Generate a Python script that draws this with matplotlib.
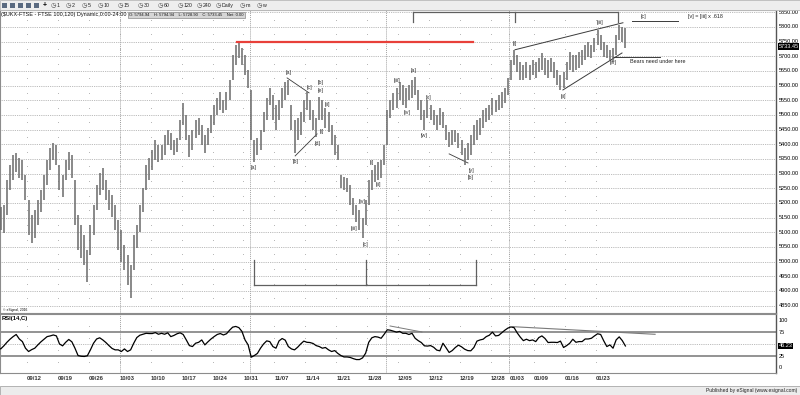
import matplotlib
matplotlib.use("Agg")
import matplotlib.pyplot as plt
from matplotlib.patches import Rectangle
import numpy as np
import pandas as pd

plt.rcParams["font.family"] = ["Liberation Sans", "DejaVu Sans"]

# 120-min style bars, two per trading day (Sep 5 2016 .. Jan 27 2017)
highs = [5193, 5186, 5193, 5278, 5329, 5363, 5370, 5353, 5346, 5295,
         5210, 5159, 5176, 5210, 5244, 5295, 5346, 5387, 5404, 5398,
         5329, 5295, 5346, 5374, 5363, 5278, 5159, 5125, 5091, 5039,
         5125, 5193, 5261, 5302, 5319, 5278, 5244, 5227, 5193, 5142,
         5108, 5057, 5022, 4988, 5091, 5125, 5193, 5251, 5329, 5353,
         5380, 5415, 5398, 5398, 5432, 5449, 5438, 5415, 5421, 5483,
         5541, 5500, 5432, 5449, 5483, 5490, 5466, 5432, 5456, 5500,
         5534, 5558, 5578, 5551, 5578, 5619, 5704, 5739, 5749, 5728,
         5704, 5653, 5585, 5415, 5421, 5449, 5510, 5558, 5592, 5568,
         5534, 5551, 5592, 5612, 5619, 5534, 5483, 5490, 5510, 5551,
         5578, 5551, 5517, 5490, 5561, 5551, 5524, 5510, 5466, 5432,
         5398, 5295, 5288, 5285, 5261, 5217, 5193, 5176, 5149, 5210,
         5278, 5312, 5329, 5340, 5346, 5398, 5517, 5551, 5575, 5592,
         5612, 5602, 5592, 5602, 5619, 5629, 5585, 5551, 5517, 5551,
         5534, 5517, 5500, 5524, 5510, 5466, 5442, 5449, 5449, 5438,
         5415, 5387, 5404, 5432, 5466, 5483, 5490, 5517, 5524, 5534,
         5558, 5551, 5568, 5578, 5592, 5626, 5687, 5722, 5704, 5681,
         5670, 5681, 5670, 5687, 5681, 5694, 5711, 5694, 5687, 5694,
         5681, 5653, 5636, 5646, 5681, 5715, 5704, 5704, 5715, 5722,
         5739, 5749, 5739, 5762, 5790, 5773, 5749, 5739, 5722, 5728,
         5773, 5807, 5800, 5795]
lows = [5125, 5108, 5097, 5159, 5244, 5278, 5305, 5285, 5278, 5210,
        5091, 5063, 5080, 5125, 5169, 5210, 5261, 5312, 5346, 5329,
        5244, 5220, 5278, 5312, 5285, 5125, 5039, 5012, 4988, 4930,
        5022, 5091, 5176, 5227, 5244, 5210, 5176, 5152, 5108, 5039,
        4999, 4971, 4920, 4876, 4971, 5046, 5101, 5169, 5244, 5278,
        5312, 5346, 5340, 5346, 5363, 5398, 5380, 5363, 5374, 5415,
        5466, 5415, 5357, 5380, 5421, 5432, 5398, 5370, 5398, 5438,
        5466, 5500, 5517, 5507, 5517, 5551, 5619, 5670, 5694, 5670,
        5636, 5592, 5415, 5340, 5363, 5380, 5442, 5483, 5534, 5483,
        5449, 5483, 5524, 5551, 5568, 5449, 5370, 5415, 5432, 5476,
        5517, 5483, 5449, 5425, 5483, 5483, 5456, 5442, 5398, 5363,
        5346, 5251, 5244, 5237, 5193, 5159, 5135, 5108, 5080, 5125,
        5193, 5244, 5271, 5278, 5285, 5329, 5398, 5490, 5517, 5524,
        5551, 5534, 5524, 5551, 5558, 5568, 5517, 5483, 5449, 5490,
        5483, 5466, 5449, 5466, 5456, 5415, 5391, 5398, 5408, 5387,
        5363, 5329, 5346, 5363, 5398, 5415, 5432, 5456, 5476, 5483,
        5500, 5510, 5517, 5524, 5541, 5568, 5619, 5670, 5646, 5619,
        5619, 5626, 5619, 5636, 5626, 5646, 5653, 5636, 5626, 5646,
        5626, 5602, 5585, 5592, 5619, 5653, 5646, 5653, 5660, 5670,
        5687, 5698, 5694, 5715, 5739, 5722, 5698, 5694, 5687, 5681,
        5704, 5756, 5749, 5729]
rsi = [41.5, 40, 46.5, 54, 60.5, 66, 70.5, 61, 55.5, 41.5,
       34.5, 38.5, 41.5, 48.5, 55, 60.5, 66, 67.5, 69.5, 67.5,
       50.5, 46.5, 54, 60, 55, 41.5, 26, 24.5, 24, 25.5,
       38, 52, 61, 63.5, 59, 53.5, 47, 41, 38, 38,
       34.5, 40, 34.5, 38, 52, 64, 69, 71, 73, 72.5,
       72.5, 74.5, 71, 73, 71, 74, 66, 68.5, 72, 74,
       70.5, 59, 47, 45, 52, 54, 59, 48.5, 55, 61,
       66, 70.5, 72.5, 69.5, 72, 79.5, 86, 87.5, 85, 77,
       59, 48.5, 22.5, 26, 30.5, 41.5, 50.5, 57, 55.5, 45,
       41.5, 57, 62, 58.5, 45, 40, 38, 43.5, 50.5, 56.5,
       54, 53.5, 51.5, 47, 45, 41.5, 43, 38, 34.5, 36.5,
       30.5, 26, 23, 23, 22, 19.5, 17.5, 17.5, 21, 31,
       54, 63.5, 66, 65, 62.5, 71, 80.5, 79.5, 77.5, 75.5,
       77, 73, 73, 70.5, 73, 62.5, 57.5, 53.5, 46.5, 46,
       47, 43.5, 37.5, 36, 52, 42.5, 32.5, 36.5, 43, 48,
       44.5, 39.5, 36.5, 36, 43, 56.5, 59, 60.5, 66, 69,
       75.5, 67.5, 68.5, 74, 79.5, 84, 86.5, 85, 74, 65,
       57.5, 60.5, 57.5, 59, 55.5, 64, 67.5, 62, 53.5, 54,
       54, 53.5, 56.5, 43, 47, 52, 60.5, 54, 55.5, 55.5,
       61, 61, 62.5, 67.5, 72, 70.5, 57, 45, 48.5, 41.5,
       59, 65.5, 57.5, 46.23]

last_close = 5733.45
last_rsi = 46.23
price_levels = list(range(4850, 5851, 50))

wave_labels = [(82.9, 5319, "[a]"), (94.2, 5643, "[a]"), (96.5, 5340, "[b]"),
               (100.7, 5592, "[c]"), (103.6, 5404, "[d]"), (104.6, 5611, "[b]"),
               (104.6, 5584, "[e]"), (106.5, 5537, "[ii]"), (104.9, 5442, "[i]"),
               (117.8, 5203, "[iv]"), (115.2, 5111, "[iii]"), (119.1, 5057, "[c]"),
               (121.1, 5336, "[i]"), (123.0, 5261, "[ii]"), (129.1, 5616, "[iii]"),
               (132.4, 5507, "[iv]"), (134.6, 5650, "[a]"), (137.9, 5428, "[w]"),
               (139.2, 5558, "[x]"), (153.1, 5312, "[y]"), (153.1, 5285, "[b]"),
               (167.3, 5742, "[i]"), (182.8, 5561, "[ii]"), (194.8, 5814, "[iii]"),
               (199.0, 5677, "[iv]"), (208.7, 5837, "[c]")]

W, H = 800, 395
fig = plt.figure(figsize=(8, 3.95), dpi=100)


def box(l, t, r, b):
    return [l / W, 1 - b / H, (r - l) / W, (b - t) / H]


ax = fig.add_axes(box(0, 10, 776, 313))
rax = fig.add_axes(box(0, 314, 776, 373), sharex=ax)

x = np.arange(len(highs))
ax.vlines(x, lows, highs, color="#6a6a6a", lw=1.1, zorder=3)
ax.set_xlim(0.76, 251.7)
ax.set_ylim(4824.6, 5857.5)

# trading calendar for the date axis
days = pd.bdate_range("2016-09-05", "2017-01-27")
days = days.drop(pd.to_datetime(["2016-12-26", "2016-12-27", "2017-01-02"]))
day_x = np.arange(len(days)) * 2 - 0.5
week_start = [i for i in range(1, len(days)) if days[i].weekday() < days[i - 1].weekday()]
month_start = [i for i in range(1, len(days)) if days[i].month != days[i - 1].month]

grid_c = "#a4a4a4"
for p in price_levels:
    ax.axhline(p, color=grid_c, lw=0.6, ls=(0, (1, 1.2)), zorder=0)
for a in (ax, rax):
    for i in month_start:
        a.axvline(day_x[i], color=grid_c, lw=0.7, ls=(0, (1, 1)), zorder=0)
for i in week_start:
    ax.scatter([day_x[i]] * len(price_levels), np.array(price_levels) + 25, s=0.3,
               color="#9a9a9a", zorder=0, linewidths=0)
    rax.scatter([day_x[i]] * 4, [12.5, 37.5, 62.5, 87.5], s=0.3, color="#9a9a9a",
                zorder=0, linewidths=0)

# price axis labels
lab_fs = 4.0
for p in price_levels:
    ax.text(1.003, p, f"{p:.2f}", transform=ax.get_yaxis_transform(), fontsize=lab_fs,
            va="center", ha="left", clip_on=False)
ax.text(1.003, last_close, f"{last_close:.2f}", transform=ax.get_yaxis_transform(),
        fontsize=lab_fs, va="center", ha="left", color="white", clip_on=False,
        bbox=dict(fc="black", ec="none", pad=0.5))

# red resistance line
ax.plot([77.4, 153.7], [5749, 5749], color="#e8403a", lw=1.6, zorder=4)

# wave count lines
lc = "#3a3a3a"
ax.plot([93.6, 100.7], [5626, 5575], color=lc, lw=0.6)
ax.plot([96.2, 103.3], [5360, 5435], color=lc, lw=0.6)
ax.plot([146.0, 152.1], [5367, 5336], color=lc, lw=0.6)
ax.plot([167.3, 202.2], [5722, 5814], color=lc, lw=0.7)
ax.plot([182.8, 201.9], [5585, 5711], color=lc, lw=0.7)
ax.plot([199.0, 214.2], [5698, 5698], color=lc, lw=0.7)
ax.plot([205.1, 220.0], [5820, 5820], color=lc, lw=0.7)
ax.plot([134.3, 200.6], [5849, 5849], color="#606060", lw=0.9)
for bx in (134.3, 167.3, 200.6):
    ax.plot([bx, bx], [5849, 5817], color="#606060", lw=0.9)
ax.plot([82.9, 154.7], [4920, 4920], color="#606060", lw=0.9)
for bx in (82.9, 119.1, 154.7):
    ax.plot([bx, bx], [5005, 4920], color="#606060", lw=0.9)

for lx, ly, t in wave_labels:
    ax.text(lx, ly, t, fontsize=3.9, ha="center", va="center", color="#333333", zorder=5)
ax.text(223.2, 5834, "[v] = [iii] x .618", fontsize=3.9, ha="left", va="center", color="#222222")
ax.text(204.5, 5681, "Bears need under here", fontsize=3.9, ha="left", va="center", color="#222222")

# RSI panel
rax.plot(x, rsi, color="black", lw=0.9, zorder=3)
rax.set_ylim(-10.9, 113.8)
rax.axhline(75, color="#8a8a8a", lw=1.3, zorder=1)
rax.axhline(25, color="#8a8a8a", lw=1.3, zorder=1)
rax.axhline(50, color=grid_c, lw=0.6, ls=(0, (1, 1.2)), zorder=0)
rax.plot([126.9, 137.2], [88.5, 75.8], color="#7a7a7a", lw=0.7)
rax.plot([166.6, 212.6], [87.0, 70.9], color="#7a7a7a", lw=0.8)
for v in (100, 75, 25, 0):
    rax.text(1.003, v, str(v), transform=rax.get_yaxis_transform(), fontsize=lab_fs,
             va="center", ha="left", clip_on=False)
rax.text(1.003, last_rsi, f"{last_rsi:.2f}", transform=rax.get_yaxis_transform(),
         fontsize=lab_fs, va="center", ha="left", color="white", clip_on=False,
         bbox=dict(fc="black", ec="none", pad=0.5))

week_lbl = [days[i].strftime("%m/%d") for i in week_start]
rax.set_xticks([day_x[i] for i in week_start])
rax.set_xticklabels(week_lbl, ha="left", fontsize=4.2, fontweight="bold", color="#333333")
rax.tick_params(axis="x", length=0, pad=2)
rax.set_yticks([])
ax.tick_params(axis="x", length=0, labelbottom=False)
ax.set_yticks([])

for a in (ax, rax):
    for s in a.spines.values():
        s.set_color("#8c8c8c")
        s.set_linewidth(0.8)
    a.spines["right"].set_color("#555555")
    a.spines["right"].set_linewidth(1.0)

# header / toolbar
fig.patches.append(Rectangle((0, 1 - 10 / H), 1, 10 / H, transform=fig.transFigure,
                             fc="#eeeeee", ec="#b8b8b8", lw=0.6))
for ix in (2, 10, 18, 26, 34):
    fig.patches.append(Rectangle((ix / W, 1 - 8 / H), 5 / W, 5 / H, transform=fig.transFigure,
                                 fc="#5a6a80", ec="none"))
fig.text(45 / W, 1 - 5.5 / H, "+", fontsize=5, ha="center", va="center", fontweight="bold")
tool_items = [("1", 53), ("2", 68), ("5", 84), ("10", 100), ("15", 120), ("30", 140),
              ("60", 160), ("120", 180), ("240", 199), ("Daily", 218), ("m", 242), ("w", 259)]
for t, tx in tool_items:
    fig.text(tx / W, 1 - 5.5 / H, "\u25f7", fontsize=4.5, ha="center", va="center", color="#444444")
    fig.text((tx + 3.5) / W, 1 - 5.5 / H, t, fontsize=3.8, ha="left", va="center", color="#222222")

fig.text(1 / W, 1 - 14.5 / H, "($UKX-FTSE - FTSE 100,120) Dynamic,0:00-24:00", fontsize=4.0,
         ha="left", va="center", color="#111111")
fig.text(129 / W, 1 - 14.8 / H, "O: 5794.94    H: 5794.94    L: 5728.90    C: 5733.45    Net: 0.00",
         fontsize=3.0, ha="left", va="center", color="#111111",
         bbox=dict(fc="#d6d6d6", ec="#8a8a8a", lw=0.5, pad=0.9))
fig.text(3 / W, 1 - 310.5 / H, "\u00a9 eSignal, 2016", fontsize=2.4, ha="left", va="center")
fig.text(2 / W, 1 - 318.5 / H, "RSI(14,C)", fontsize=4.2, ha="left", va="center", fontweight="bold")

# status bar
fig.patches.append(Rectangle((0, 0), 1, 9 / H, transform=fig.transFigure,
                             fc="#ececec", ec="#a8a8a8", lw=0.6))
fig.text(797 / W, 4.5 / H, "Published by eSignal (www.esignal.com)", fontsize=3.6,
         ha="right", va="center", color="#222222")

fig.savefig("out.png", dpi=100, facecolor="white")
